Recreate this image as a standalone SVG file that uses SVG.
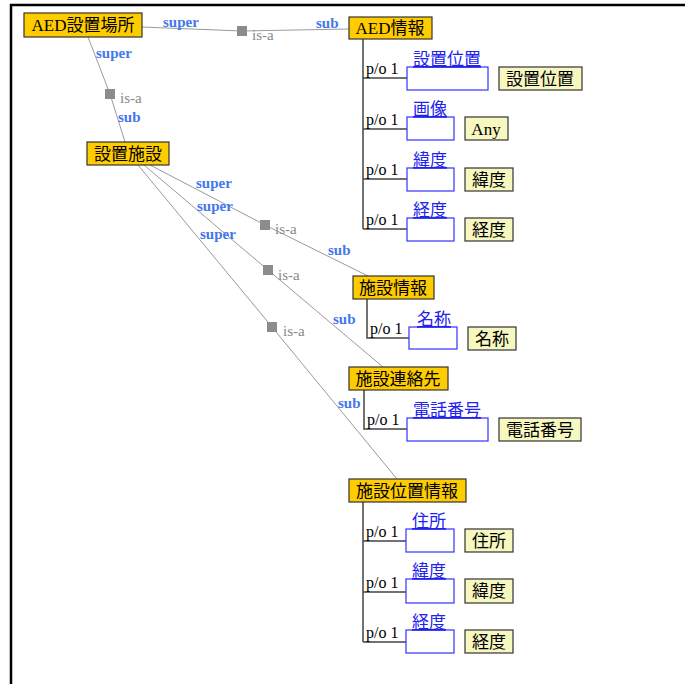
<svg xmlns="http://www.w3.org/2000/svg" width="685" height="684" viewBox="0 0 685 684">
<style>
text{font-family:"Liberation Serif","Noto Sans CJK JP",serif;}
.node rect{fill:#FFCC00;stroke:#333;stroke-width:1.2;}
.node text{font-size:17px;fill:#000;text-anchor:middle;}
.slot rect{fill:#fff;stroke:#3333FF;stroke-width:1.2;}
.slot text{font-size:17px;fill:#2222EE;text-decoration:underline;}
.type rect{fill:#F7F7C0;stroke:#333;stroke-width:1.2;}
.type text{font-size:17px;fill:#000;text-anchor:middle;}
.isa line,.isa polyline{stroke:#9a9a9a;stroke-width:1;fill:none;}
.po path{stroke:#444;stroke-width:1.5;fill:none;}
.role{font-size:15px;font-weight:bold;fill:#4477EE;}
.isal{font-size:15px;fill:#888;}
.sq{fill:#8c8c8c;}
.pol{font-size:16px;fill:#000;}
</style>
<rect width="685" height="684" fill="#fff"/>
<path d="M10 5 H685 M11 4 V684" stroke="#000" stroke-width="2.5" fill="none"/>

<g id="connectors">
<g class="isa">
<polyline points="142,27 242,31 349,29"/>
<polyline points="88,37 110,94 125,142"/>
<polyline points="150,165 265,225 368,276"/>
<polyline points="144,165 268,270 383,367"/>
<polyline points="138,165 272,327 397,479"/>
</g>
<rect class="sq" x="237" y="26" width="10" height="10"/>
<rect class="sq" x="105" y="89" width="10" height="10"/>
<rect class="sq" x="260" y="220" width="10" height="10"/>
<rect class="sq" x="263" y="265" width="10" height="10"/>
<rect class="sq" x="267" y="322" width="10" height="10"/>
<text class="role" x="163" y="27">super</text>
<text class="isal" x="252" y="40">is-a</text>
<text class="role" x="316" y="28">sub</text>
<text class="role" x="96" y="58">super</text>
<text class="isal" x="120" y="103">is-a</text>
<text class="role" x="118" y="122">sub</text>
<text class="role" x="196" y="188">super</text>
<text class="role" x="197" y="211">super</text>
<text class="role" x="200" y="239">super</text>
<text class="isal" x="275" y="234">is-a</text>
<text class="isal" x="278" y="280">is-a</text>
<text class="isal" x="283" y="336">is-a</text>
<text class="role" x="328" y="255">sub</text>
<text class="role" x="333" y="324">sub</text>
<text class="role" x="338" y="408">sub</text>
<g class="po">
<path d="M363 39 V229 M363 78 H407 M363 129 H407 M363 179 H407 M363 229 H407"/>
<path d="M367 299 V338 H409"/>
<path d="M364 390 V429 H407"/>
<path d="M363 502 V642 M363 541 H406 M363 592 H406 M363 642 H406"/>
</g>
<text class="pol" x="366" y="74">p/o 1</text>
<text class="pol" x="366" y="125">p/o 1</text>
<text class="pol" x="366" y="175">p/o 1</text>
<text class="pol" x="366" y="225">p/o 1</text>
<text class="pol" x="370" y="334">p/o 1</text>
<text class="pol" x="367" y="425">p/o 1</text>
<text class="pol" x="366" y="537">p/o 1</text>
<text class="pol" x="366" y="588">p/o 1</text>
<text class="pol" x="366" y="638">p/o 1</text>
</g>

<g id="n-aed-place" class="node"><rect x="24" y="13" width="118" height="24"/><text x="83" y="31">AED設置場所</text></g>
<g id="n-facility" class="node"><rect x="87" y="142" width="82" height="23"/><text x="128" y="160">設置施設</text></g>
<g id="n-aed-info" class="node"><rect x="349" y="17" width="83" height="22"/><text x="390" y="34">AED情報</text></g>
<g id="n-fac-info" class="node"><rect x="353" y="276" width="81" height="23"/><text x="393" y="294">施設情報</text></g>
<g id="n-fac-contact" class="node"><rect x="349" y="367" width="99" height="23"/><text x="398" y="385">施設連絡先</text></g>
<g id="n-fac-loc" class="node"><rect x="349" y="479" width="117" height="23"/><text x="407" y="497">施設位置情報</text></g>

<g id="s-place" class="slot"><rect x="407" y="67" width="81" height="23"/><text x="413" y="65">設置位置</text></g>
<g id="s-image" class="slot"><rect x="407" y="117" width="47" height="23"/><text x="413" y="115">画像</text></g>
<g id="s-lat1" class="slot"><rect x="407" y="168" width="47" height="23"/><text x="413" y="166">緯度</text></g>
<g id="s-lon1" class="slot"><rect x="407" y="218" width="47" height="23"/><text x="413" y="216">経度</text></g>
<g id="s-name" class="slot"><rect x="409" y="327" width="48" height="22"/><text x="417" y="325">名称</text></g>
<g id="s-tel" class="slot"><rect x="407" y="418" width="81" height="23"/><text x="413" y="416">電話番号</text></g>
<g id="s-addr" class="slot"><rect x="406" y="529" width="48" height="23"/><text x="412" y="527">住所</text></g>
<g id="s-lat2" class="slot"><rect x="406" y="579" width="48" height="24"/><text x="412" y="577">緯度</text></g>
<g id="s-lon2" class="slot"><rect x="406" y="630" width="48" height="23"/><text x="412" y="628">経度</text></g>

<g id="t-place" class="type"><rect x="499" y="67" width="83" height="23"/><text x="540" y="85">設置位置</text></g>
<g id="t-any" class="type"><rect x="465" y="117" width="43" height="23"/><text x="486" y="135">Any</text></g>
<g id="t-lat1" class="type"><rect x="465" y="168" width="48" height="23"/><text x="489" y="186">緯度</text></g>
<g id="t-lon1" class="type"><rect x="465" y="218" width="48" height="23"/><text x="489" y="236">経度</text></g>
<g id="t-name" class="type"><rect x="468" y="327" width="48" height="23"/><text x="492" y="345">名称</text></g>
<g id="t-tel" class="type"><rect x="499" y="418" width="82" height="23"/><text x="540" y="436">電話番号</text></g>
<g id="t-addr" class="type"><rect x="465" y="529" width="48" height="23"/><text x="489" y="547">住所</text></g>
<g id="t-lat2" class="type"><rect x="465" y="579" width="48" height="24"/><text x="489" y="597">緯度</text></g>
<g id="t-lon2" class="type"><rect x="465" y="630" width="48" height="23"/><text x="489" y="648">経度</text></g>
</svg>
